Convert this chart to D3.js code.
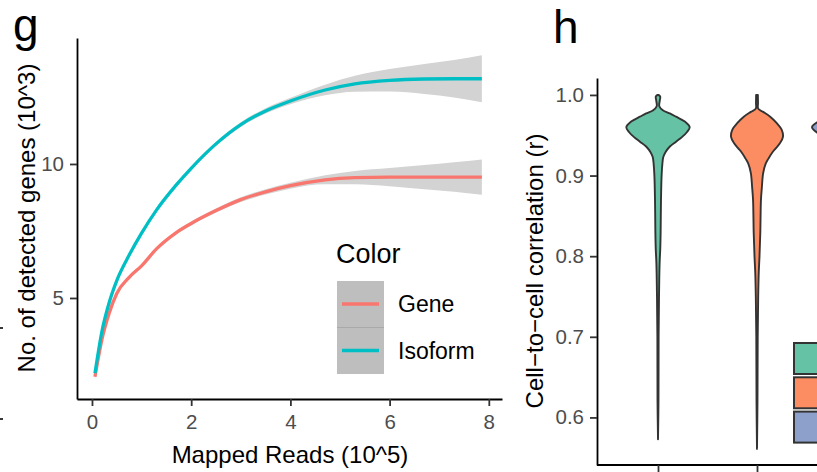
<!DOCTYPE html>
<html>
<head>
<meta charset="utf-8">
<script src="https://cdn.jsdelivr.net/npm/d3@7"></script>
<style>
  body { margin: 0; background: #fff; }
  svg { display: block; font-family: "Liberation Sans", Arial, sans-serif; }
</style>
</head>
<body>
<div id="chart"></div>
<script>
// ---- data: panel g (saturation curves) ----
const readsX = [0.06, 0.2, 0.35, 0.5, 0.75, 1.0, 1.3, 1.7, 2.0, 2.5, 3.0, 3.5, 4.0, 4.7, 5.3, 6.0, 6.7, 7.3, 7.86];
const isoformY = [2.19, 3.75, 4.85, 5.65, 6.6, 7.42, 8.28, 9.22, 9.84, 10.75, 11.47, 11.98, 12.35, 12.76, 12.99, 13.12, 13.17, 13.18, 13.18];
const geneY = [2.06, 3.45, 4.45, 5.17, 5.77, 6.2, 6.83, 7.44, 7.78, 8.26, 8.67, 8.96, 9.19, 9.41, 9.49, 9.51, 9.51, 9.51, 9.51];
const isoformCI = [0.08, 0.06, 0.05, 0.05, 0.05, 0.05, 0.05, 0.06, 0.07, 0.08, 0.09, 0.1, 0.12, 0.2, 0.3, 0.42, 0.56, 0.7, 0.88];
const geneCI = [0.08, 0.06, 0.05, 0.05, 0.05, 0.05, 0.05, 0.06, 0.07, 0.08, 0.09, 0.1, 0.11, 0.17, 0.25, 0.34, 0.45, 0.55, 0.66];
const seriesNames = ['Gene', 'Isoform'];
const seriesColors = ['#F8766D', '#00BFC4'];
const gXTicks = [0, 2, 4, 6, 8];
const gYTicks = [5, 10];

// ---- data: panel h (violins) ----
const violinCats = ['c1', 'c2', 'c3'];
const violinColors = ['#66C2A5', '#FC8D62', '#8DA0CB'];
const greenR = [1.0, 0.998, 0.993, 0.986, 0.981, 0.977, 0.973, 0.967, 0.96, 0.954, 0.948, 0.942, 0.936, 0.929, 0.923, 0.915, 0.9, 0.87, 0.83, 0.81, 0.79, 0.75, 0.7, 0.62, 0.573];
const greenDens = [0.01, 0.05, 0.04, 0.03, 0.11, 0.27, 0.41, 0.61, 0.72, 0.66, 0.55, 0.41, 0.27, 0.17, 0.12, 0.1, 0.082, 0.068, 0.06, 0.052, 0.036, 0.023, 0.014, 0.011, 0.0];
const orangeR = [1.0, 0.99, 0.983, 0.979, 0.973, 0.965, 0.957, 0.948, 0.94, 0.934, 0.928, 0.921, 0.915, 0.903, 0.885, 0.87, 0.829, 0.8, 0.78, 0.75, 0.7, 0.62, 0.561];
const orangeDens = [0.02, 0.023, 0.027, 0.14, 0.3, 0.45, 0.56, 0.59, 0.52, 0.43, 0.34, 0.26, 0.2, 0.14, 0.11, 0.09, 0.075, 0.057, 0.04, 0.027, 0.016, 0.011, 0.0];
const blueR = [1.0, 0.99, 0.982, 0.975, 0.968, 0.96, 0.952, 0.944, 0.935, 0.925, 0.91, 0.88, 0.83, 0.78, 0.7, 0.62, 0.58];
const blueDens = [0.02, 0.03, 0.1, 0.45, 0.82, 1.0, 0.85, 0.55, 0.3, 0.15, 0.09, 0.06, 0.04, 0.025, 0.015, 0.01, 0.0];
const hYTicks = [0.6, 0.7, 0.8, 0.9, 1.0];

const W = 817, H = 472;
const svg = d3.select('#chart').append('svg').attr('width', W).attr('height', H);
svg.append('rect').attr('width', W).attr('height', H).attr('fill', '#fff');

// small tick bits from the neighbouring panel at the left edge
[328, 419].forEach(y => {
  svg.append('line').attr('x1', 0).attr('x2', 3).attr('y1', y).attr('y2', y)
    .attr('stroke', '#222').attr('stroke-width', 1.8);
});

function styleAxis(g) {
  g.select('.domain').attr('stroke', '#000').attr('stroke-width', 1.8);
  g.selectAll('.tick line').attr('stroke', '#333').attr('stroke-width', 1.8);
  g.selectAll('.tick text').attr('fill', '#4D4D4D').style('font-size', '20.5px');
}

// =============== panel g ===============
const xG = d3.scaleLinear().domain([-0.302, 8.266]).range([77, 502]);
const yG = d3.scaleLinear().domain([1.231, 14.70]).range([399, 38]);

const gData = [
  readsX.map((x, i) => ({ x: x, y: geneY[i], lo: geneY[i] - geneCI[i], hi: geneY[i] + geneCI[i] })),
  readsX.map((x, i) => ({ x: x, y: isoformY[i], lo: isoformY[i] - isoformCI[i], hi: isoformY[i] + isoformCI[i] }))
];

const band = d3.area()
  .x(d => xG(d.x)).y0(d => yG(d.lo)).y1(d => yG(d.hi))
  .curve(d3.curveMonotoneX);
const line = d3.line()
  .x(d => xG(d.x)).y(d => yG(d.y))
  .curve(d3.curveMonotoneX);

gData.forEach((s, i) => {
  svg.append('path').attr('d', band(s)).attr('fill', '#d3d3d3');
  svg.append('path').attr('d', line(s)).attr('fill', 'none')
    .attr('stroke', seriesColors[i]).attr('stroke-width', 3.3);
});

svg.append('g').attr('transform', 'translate(0,399)')
  .call(d3.axisBottom(xG).tickValues(gXTicks).tickSize(7).tickSizeOuter(0).tickPadding(8))
  .call(styleAxis);
svg.append('g').attr('transform', 'translate(77,0)')
  .call(d3.axisLeft(yG).tickValues(gYTicks).tickSize(7).tickSizeOuter(0).tickPadding(6))
  .call(styleAxis);

svg.append('text').attr('x', 290).attr('y', 463).attr('text-anchor', 'middle')
  .style('font-size', '24px').text('Mapped Reads (10^5)');
svg.append('text').attr('transform', 'translate(35,218) rotate(-90)').attr('text-anchor', 'middle')
  .style('font-size', '24px').text('No. of detected genes (10^3)');
svg.append('text').attr('x', 13).attr('y', 41).style('font-size', '46px').text('g');

// legend
svg.append('text').attr('x', 336).attr('y', 263).style('font-size', '27px').text('Color');
seriesNames.forEach((name, i) => {
  const top = 281 + i * 46.5;
  svg.append('rect').attr('x', 337).attr('y', top).attr('width', 47).attr('height', 46.5).attr('fill', '#bebebe');
  svg.append('line').attr('x1', 342).attr('x2', 379).attr('y1', top + 23).attr('y2', top + 23)
    .attr('stroke', seriesColors[i]).attr('stroke-width', 3.3);
  svg.append('text').attr('x', 398).attr('y', top + 31).style('font-size', '23px').text(name);
});
svg.append('line').attr('x1', 337).attr('x2', 384).attr('y1', 327.5).attr('y2', 327.5)
  .attr('stroke', '#a9a9a9').attr('stroke-width', 1);

// =============== panel h ===============
const xH = d3.scalePoint().domain(violinCats).range([658, 856]);
const yH = d3.scaleLinear().domain([0.541, 1.021]).range([465, 78]);
const wH = d3.scaleLinear().domain([0, 1]).range([0, 44]);

const violins = [
  greenR.map((r, i) => ({ r: r, d: greenDens[i] })),
  orangeR.map((r, i) => ({ r: r, d: orangeDens[i] })),
  blueR.map((r, i) => ({ r: r, d: blueDens[i] }))
];

violins.forEach((v, i) => {
  const cx = xH(violinCats[i]);
  const shape = d3.area()
    .y(d => yH(d.r)).x0(d => cx - wH(d.d)).x1(d => cx + wH(d.d))
    .curve(d3.curveCatmullRom.alpha(0.5));
  svg.append('path').attr('d', shape(v)).attr('fill', violinColors[i])
    .attr('stroke', '#333').attr('stroke-width', 1.9).attr('stroke-linejoin', 'round');
});

svg.append('g').attr('transform', 'translate(0,465)')
  .call(d3.axisBottom(xH).tickSize(7).tickSizeOuter(0).tickFormat(''))
  .call(styleAxis)
  .select('.domain').attr('d', 'M597,0H830');
svg.append('g').attr('transform', 'translate(597,0)')
  .call(d3.axisLeft(yH).tickValues(hYTicks).tickSize(7).tickSizeOuter(0).tickPadding(6).tickFormat(d3.format('.1f')))
  .call(styleAxis);

svg.append('text').attr('transform', 'translate(543,271) rotate(-90)').attr('text-anchor', 'middle')
  .style('font-size', '24px').text('Cell\u2212to\u2212cell correlation (r)');
svg.append('text').attr('x', 553).attr('y', 43).style('font-size', '46px').text('h');

// legend keys (cut by the right edge)
violinColors.forEach((c, i) => {
  svg.append('rect').attr('x', 794).attr('y', 343 + i * 34.3).attr('width', 40).attr('height', 31)
    .attr('fill', c).attr('stroke', '#333').attr('stroke-width', 2);
});
</script>
</body>
</html>
